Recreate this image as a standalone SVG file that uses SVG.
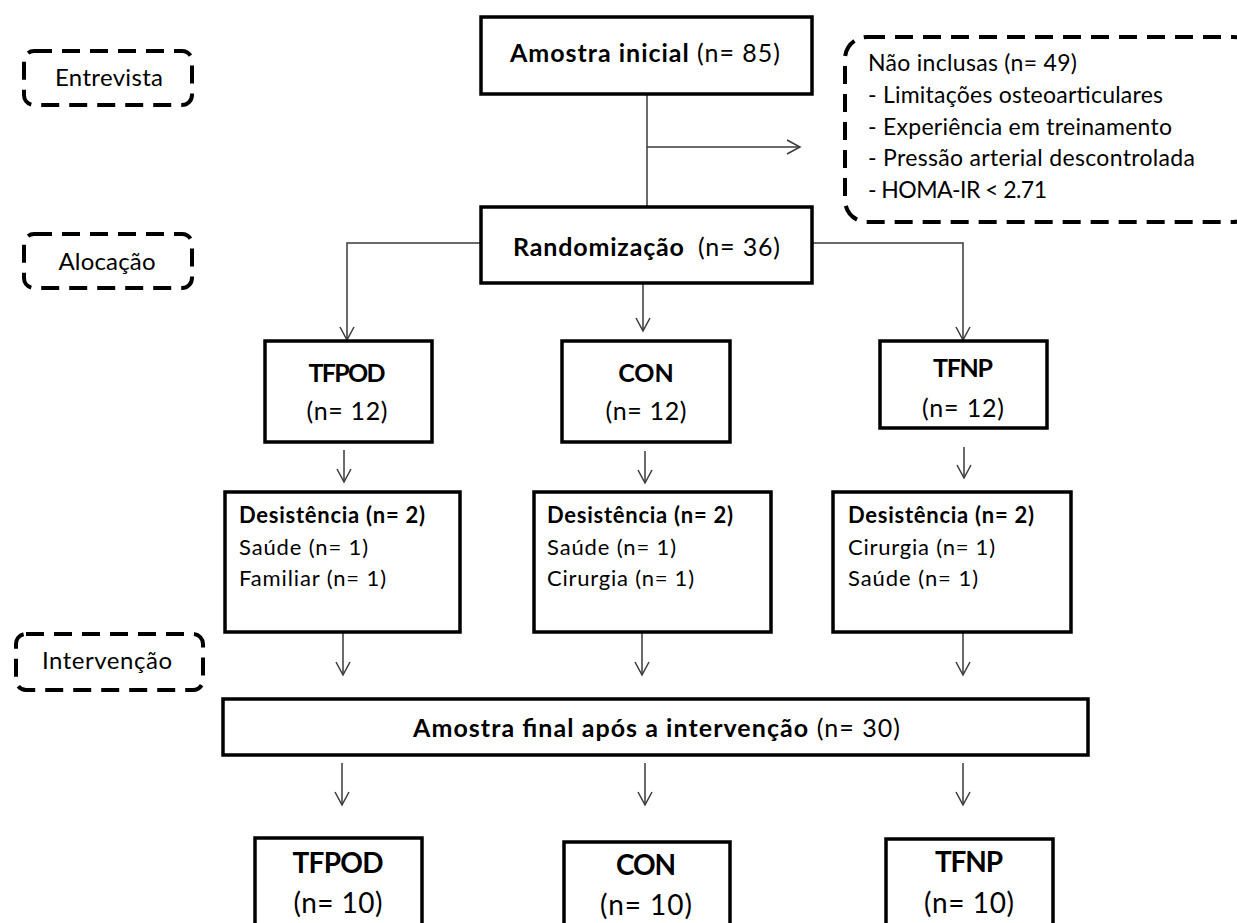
<svg xmlns="http://www.w3.org/2000/svg" width="1237" height="923" viewBox="0 0 1237 923">
<style>
text{font-family:Lato,"Liberation Sans",sans-serif;fill:#000}
.b{font-weight:bold}
.box{fill:#fff;stroke:#000;stroke-width:3.5}
.dash{fill:none;stroke:#000;stroke-width:4;stroke-dasharray:18 10}
.con{fill:none;stroke:#3a3a3a;stroke-width:1.5}
.s22{font-size:22px}
.s23{font-size:23px}
.s24{font-size:24px}
.s25{font-size:25px}
.s28{font-size:28px}
</style>
<defs>
<marker id="ah" viewBox="-15 -9 17 18" markerWidth="17" markerHeight="18" refX="0" refY="0" orient="auto" markerUnits="userSpaceOnUse">
<path d="M-13,-7 L0,0 L-13,7" fill="none" stroke="#3a3a3a" stroke-width="1.5"/>
</marker>
</defs>
<rect width="1237" height="923" fill="#fff"/>

<g id="connectors">
<line class="con" x1="647" y1="94" x2="647" y2="207"/>
<line class="con" x1="647" y1="147" x2="800" y2="147" marker-end="url(#ah)"/>
<path class="con" d="M481,243 H347 V340" marker-end="url(#ah)"/>
<path class="con" d="M812,243 H963 V340" marker-end="url(#ah)"/>
<line class="con" x1="643" y1="283" x2="643" y2="331" marker-end="url(#ah)"/>
<line class="con" x1="344" y1="450" x2="344" y2="482" marker-end="url(#ah)"/>
<line class="con" x1="645" y1="451" x2="645" y2="483" marker-end="url(#ah)"/>
<line class="con" x1="964" y1="447" x2="964" y2="478" marker-end="url(#ah)"/>
<line class="con" x1="343" y1="633" x2="343" y2="675" marker-end="url(#ah)"/>
<line class="con" x1="642" y1="633" x2="642" y2="675" marker-end="url(#ah)"/>
<line class="con" x1="963" y1="633" x2="963" y2="675" marker-end="url(#ah)"/>
<line class="con" x1="342" y1="763" x2="342" y2="805" marker-end="url(#ah)"/>
<line class="con" x1="645" y1="763" x2="645" y2="805" marker-end="url(#ah)"/>
<line class="con" x1="963" y1="763" x2="963" y2="805" marker-end="url(#ah)"/>
</g>

<g id="entrevista">
<rect class="dash" x="24" y="51" width="168" height="54" rx="10"/>
<text class="s24" x="109" y="86" text-anchor="middle" textLength="108">Entrevista</text>
</g>
<g id="alocacao">
<rect class="dash" x="24" y="234" width="168" height="54" rx="10"/>
<text class="s24" x="107" y="270" text-anchor="middle" textLength="97">Alocação</text>
</g>
<g id="intervencao">
<rect class="dash" x="16" y="634" width="187" height="56" rx="10"/>
<text class="s24" x="107" y="669" text-anchor="middle" textLength="130">Intervenção</text>
</g>

<g id="amostra-inicial">
<rect class="box" x="481" y="17" width="331" height="77"/>
<text class="s25" x="510" y="62" textLength="270"><tspan class="b">Amostra inicial</tspan> (n= 85)</text>
</g>

<g id="nao-inclusas">
<rect class="dash" x="845" y="37" width="410" height="185" rx="22"/>
<text class="s23" x="868" y="71" textLength="209">Não inclusas (n= 49)</text>
<text class="s23" x="868" y="103" textLength="295">- Limitações osteoarticulares</text>
<text class="s23" x="868" y="135" textLength="304">- Experiência em treinamento</text>
<text class="s23" x="868" y="166" textLength="327">- Pressão arterial descontrolada</text>
<text class="s23" x="868" y="198" textLength="179">- HOMA-IR &lt; 2.71</text>
</g>

<g id="randomizacao">
<rect class="box" x="481" y="207" width="331" height="76"/>
<text class="s25" x="513" y="256" textLength="267"><tspan class="b">Randomização</tspan><tspan dx="6"> (n= 36)</tspan></text>
</g>

<g id="tfpod-12">
<rect class="box" x="265" y="341" width="167" height="101"/>
<text class="s25 b" x="347" y="382" text-anchor="middle" textLength="77">TFPOD</text>
<text class="s25" x="347" y="420" text-anchor="middle" textLength="81">(n= 12)</text>
</g>
<g id="con-12">
<rect class="box" x="562" y="341" width="168" height="101"/>
<text class="s25 b" x="646" y="382" text-anchor="middle">CON</text>
<text class="s25" x="646" y="420" text-anchor="middle" textLength="81">(n= 12)</text>
</g>
<g id="tfnp-12">
<rect class="box" x="880" y="341" width="167" height="87"/>
<text class="s25 b" x="963" y="377" text-anchor="middle" textLength="60">TFNP</text>
<text class="s25" x="963" y="417" text-anchor="middle" textLength="82">(n= 12)</text>
</g>

<g id="desist-tfpod">
<rect class="box" x="225" y="492" width="235" height="140"/>
<text class="s22 b" x="239" y="523" textLength="186">Desistência (n= 2)</text>
<text class="s22" x="239" y="555" textLength="129">Saúde (n= 1)</text>
<text class="s22" x="239" y="586" textLength="147">Familiar (n= 1)</text>
</g>
<g id="desist-con">
<rect class="box" x="534" y="492" width="237" height="140"/>
<text class="s22 b" x="547" y="523" textLength="186">Desistência (n= 2)</text>
<text class="s22" x="547" y="555" textLength="129">Saúde (n= 1)</text>
<text class="s22" x="547" y="586" textLength="147">Cirurgia (n= 1)</text>
</g>
<g id="desist-tfnp">
<rect class="box" x="833" y="492" width="238" height="140"/>
<text class="s22 b" x="848" y="523" textLength="186">Desistência (n= 2)</text>
<text class="s22" x="848" y="555" textLength="147">Cirurgia (n= 1)</text>
<text class="s22" x="848" y="586" textLength="130">Saúde (n= 1)</text>
</g>

<g id="amostra-final">
<rect class="box" x="223" y="699" width="865" height="56"/>
<text class="s25" x="413" y="737" textLength="487"><tspan class="b">Amostra final após a intervenção</tspan> (n= 30)</text>
</g>

<g id="tfpod-10">
<rect class="box" x="255" y="838" width="167" height="100"/>
<text class="s28 b" x="338" y="873" text-anchor="middle" textLength="91">TFPOD</text>
<text class="s28" x="338" y="913" text-anchor="middle" textLength="89">(n= 10)</text>
</g>
<g id="con-10">
<rect class="box" x="564" y="842" width="166" height="100"/>
<text class="s28 b" x="646" y="875" text-anchor="middle" textLength="60">CON</text>
<text class="s28" x="646" y="915" text-anchor="middle" textLength="92">(n= 10)</text>
</g>
<g id="tfnp-10">
<rect class="box" x="886" y="839" width="167" height="100"/>
<text class="s28 b" x="969" y="872" text-anchor="middle" textLength="68">TFNP</text>
<text class="s28" x="969" y="913" text-anchor="middle" textLength="90">(n= 10)</text>
</g>
</svg>
